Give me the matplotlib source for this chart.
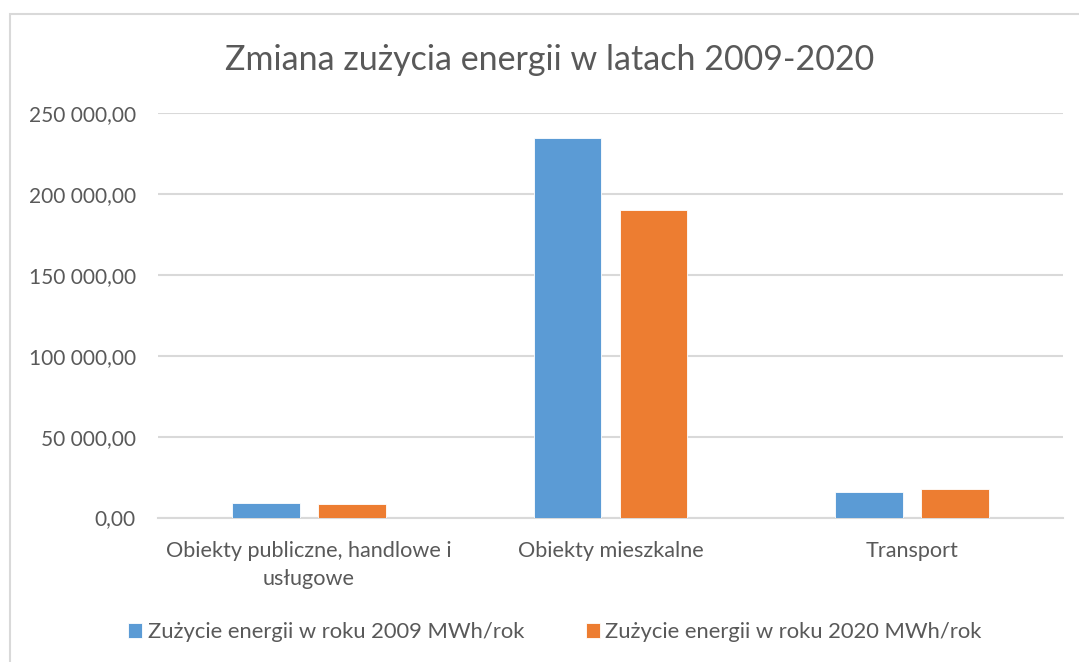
import matplotlib
matplotlib.use("Agg")
import matplotlib.pyplot as plt
import numpy as np
from matplotlib.ticker import FuncFormatter, MultipleLocator
from matplotlib.patches import Rectangle

plt.rcParams['font.family'] = ['Lato', 'DejaVu Sans']

# data
categories = ['Obiekty publiczne, handlowe i\nusługowe', 'Obiekty mieszkalne', 'Transport']
usage_2009 = [8800, 234600, 15500]
usage_2020 = [8200, 190000, 17500]
series_names = ['Zużycie energii w roku 2009 MWh/rok', 'Zużycie energii w roku 2020 MWh/rok']

BLUE = '#5B9BD5'
ORANGE = '#ED7D31'
GREY_TXT = '#595959'
GRID = '#D9D9D9'

fig = plt.figure(figsize=(10.79, 6.62), dpi=100)
ax = fig.add_axes([158 / 1079, 1 - 517.5 / 662, 905 / 1079, 404.5 / 662])

# light frame around the chart area, like the Excel chart border
fig.patches.append(Rectangle((10 / 1079, -0.01), 1.0, 1 - 13.5 / 662 + 0.01,
                             transform=fig.transFigure, fill=False,
                             edgecolor=GRID, linewidth=1.5))

x = np.arange(len(categories))
w = 0.225
off = 0.1425
b1 = ax.bar(x - off, usage_2009, w, color=BLUE, edgecolor='white', linewidth=0.6,
            label=series_names[0], zorder=3)
b2 = ax.bar(x + off, usage_2020, w, color=ORANGE, edgecolor='white', linewidth=0.6,
            label=series_names[1], zorder=3)

ax.set_xlim(-0.5, len(categories) - 0.5)
ax.set_ylim(0, 250000)
ax.yaxis.set_major_locator(MultipleLocator(50000))


def pl_fmt(v, pos):
    s = f"{v:,.2f}"
    return s.replace(',', ' ').replace('.', ',')


ax.yaxis.set_major_formatter(FuncFormatter(pl_fmt))
ax.grid(axis='y', color=GRID, linewidth=1.5, zorder=0)
for s in ['top', 'right', 'left']:
    ax.spines[s].set_visible(False)
ax.spines['bottom'].set_color(GRID)
ax.spines['bottom'].set_linewidth(1.5)
ax.tick_params(axis='y', length=0, pad=16, labelsize=15, labelcolor=GREY_TXT)
ax.tick_params(axis='x', length=0, pad=17, labelsize=15.6, labelcolor=GREY_TXT)
ax.set_xticks(x)
ax.set_xticklabels(categories, linespacing=1.5)

fig.text(550 / 1079, 1 - 60 / 662, 'Zmiana zużycia energii w latach 2009-2020',
         ha='center', va='center', fontsize=24.5, color=GREY_TXT)

leg = fig.legend(handles=[b1, b2], loc='center', bbox_to_anchor=(555 / 1079, 1 - 632 / 662),
                 ncol=2, frameon=False, fontsize=15.8, handlelength=0.65, handleheight=0.65,
                 handletextpad=0.25, columnspacing=2.8, labelcolor=GREY_TXT)

fig.savefig('out.png', dpi=100)
